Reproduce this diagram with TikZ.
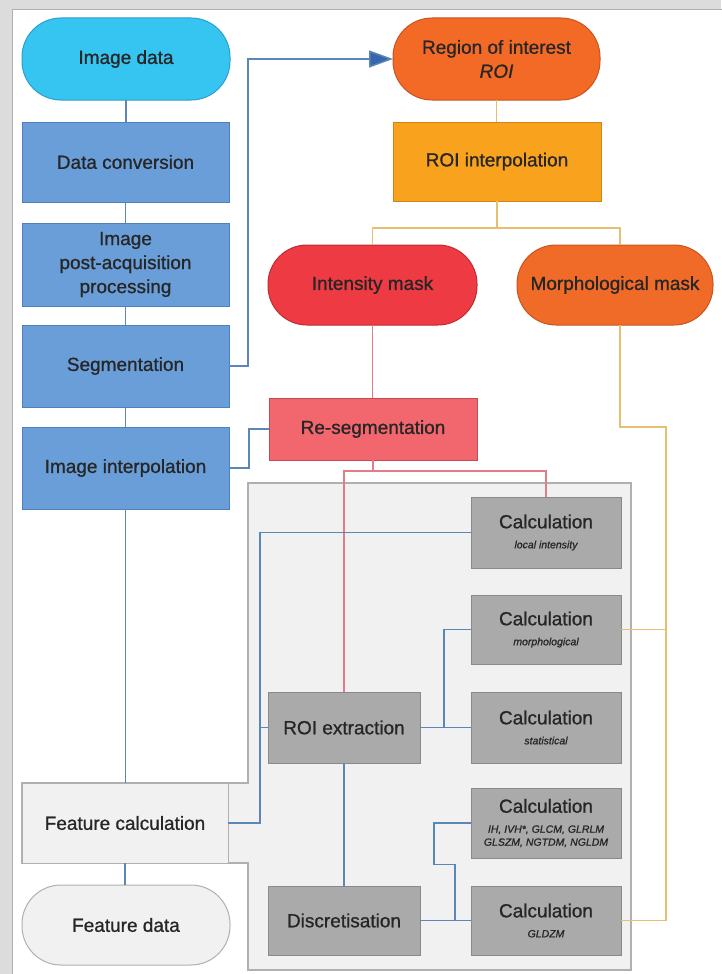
\documentclass[tikz,border=0pt]{standalone}
\usepackage{fontspec}
\setmainfont{Liberation Sans}[UprightFeatures={FakeBold=0.9},ItalicFeatures={FakeBold=0.9}]
\usetikzlibrary{arrows.meta}
\definecolor{txt}{HTML}{262626}
\definecolor{frame}{HTML}{DCDCDC}
\definecolor{cyanf}{HTML}{36C4F1}
\definecolor{cyand}{HTML}{2A9FD0}
\definecolor{bluef}{HTML}{6A9ED8}
\definecolor{blued}{HTML}{4F7FBD}
\definecolor{roif}{HTML}{F26A26}
\definecolor{roid}{HTML}{C8541E}
\definecolor{interpf}{HTML}{F8A21D}
\definecolor{interpd}{HTML}{D08418}
\definecolor{intf}{HTML}{EE3A43}
\definecolor{intd}{HTML}{C02A30}
\definecolor{morphf}{HTML}{F06B27}
\definecolor{resegf}{HTML}{F2666E}
\definecolor{resegd}{HTML}{C8484F}
\definecolor{panelf}{HTML}{F1F1F1}
\definecolor{paneld}{HTML}{B0B0B0}
\definecolor{calcf}{HTML}{AAAAAA}
\definecolor{calcd}{HTML}{8A8A8A}
\definecolor{lblue}{HTML}{5B86B8}
\definecolor{lgold}{HTML}{E6BF72}
\definecolor{lpink}{HTML}{E47C86}
\definecolor{arrowc}{HTML}{3766AD}
\begin{document}
\begin{tikzpicture}[x=1pt,y=-1pt,
  box/.style={draw, line width=1pt, inner sep=0pt, outer sep=0pt, align=center,
    text=txt, font=\fontsize{19}{24}\selectfont},
  stad/.style={box, rounded corners=39pt},
  bluebox/.style={box, fill=bluef, draw=blued, minimum width=207pt},
  calcbox/.style={box, fill=calcf, draw=calcd, minimum width=150pt,
    font=\fontsize{19}{20}\selectfont},
  graybox/.style={box, fill=calcf, draw=calcd, minimum width=152pt},
  bl/.style={draw=lblue, line width=1.5pt},
  gl/.style={draw=lgold, line width=1.5pt},
  pl/.style={draw=lpink, line width=1.5pt}]
\newcommand{\subf}{\fontsize{10.5}{12}\selectfont\itshape}
\useasboundingbox (0,0) rectangle (721,974);
% frame
\fill[frame] (0,0) rectangle (721,974);
\filldraw[fill=white, draw=frame!80!black, line width=0.8pt] (12,9) rectangle (730,980);
% panel
\filldraw[fill=panelf, draw=paneld, line width=1.2pt]
  (248,483) -- (631,483) -- (631,970) -- (248,970) -- (248,863) -- (22,863)
  -- (22,783) -- (248,783) -- cycle;
% left column
\node[stad, fill=cyanf, draw=cyand, minimum width=208pt, minimum height=82pt] (imgdata) at (126,59) {Image data};
\node[bluebox, minimum height=80pt] (datconv) at (125.5,162) {Data conversion};
\node[bluebox, minimum height=83pt] (postacq) at (125.5,264.5) {Image\\post-acquisition\\processing};
\node[bluebox, minimum height=82pt] (seg) at (125.5,366) {Segmentation};
\node[bluebox, minimum height=82pt] (imginterp) at (125.5,468) {Image interpolation};
\node[box, fill=panelf, draw=paneld, minimum width=206pt, minimum height=80pt] (featcalc) at (125,823) {Feature calculation};
\node[stad, fill=panelf, draw=paneld, minimum width=208pt, minimum height=80pt] (featdata) at (126,925) {Feature data};
% right column
\node[stad, fill=roif, draw=roid, minimum width=207pt, minimum height=82pt] (roi) at (496.5,59) {Region of interest\\{\itshape ROI}};
\node[box, fill=interpf, draw=interpd, minimum width=208pt, minimum height=79pt] (roiinterp) at (497,161.5) {ROI interpolation};
\node[stad, fill=intf, draw=intd, minimum width=209pt, minimum height=80pt] (intmask) at (372.5,285) {Intensity mask};
\node[stad, fill=morphf, draw=roid, minimum width=196pt, minimum height=80pt] (morphmask) at (615,285) {Morphological mask};
\node[box, fill=resegf, draw=resegd, minimum width=208pt, minimum height=62pt] (reseg) at (373,429) {Re-segmentation};
% panel content
\node[calcbox, minimum height=71pt] (calc1) at (546,532.5) {Calculation\\{\subf local intensity}};
\node[calcbox, minimum height=69pt] (calc2) at (546,629.5) {Calculation\\{\subf morphological}};
\node[calcbox, minimum height=71pt] (calc3) at (546,727.5) {Calculation\\{\subf statistical}};
\node[calcbox, minimum height=70pt] (calc4) at (546,823) {Calculation\\{\subf IH, IVH*, GLCM, GLRLM}\\[-7pt]{\subf GLSZM, NGTDM, NGLDM}};
\node[calcbox, minimum height=69pt] (calc5) at (546,920.5) {Calculation\\{\subf GLDZM}};
\node[graybox, minimum height=71pt] (roiext) at (344,727.5) {ROI extraction};
\node[graybox, minimum height=69pt] (discr) at (344,920.5) {Discretisation};
\coordinate (bx) at (260,0);
\coordinate (gbend) at (666,427);
% blue connectors left column
\draw[bl] (imgdata.south) -- (imgdata.south |- datconv.north);
\draw[bl] (datconv.south) -- (postacq.north);
\draw[bl] (postacq.south) -- (seg.north);
\draw[bl] (seg.south) -- (imginterp.north);
\draw[bl] (imginterp.south) -- (imginterp.south |- featcalc.north);
\draw[bl] (featcalc.south) -- (featcalc.south |- featdata.north);
\draw[bl, -{Triangle[length=24pt,width=17pt,fill=arrowc]}] (seg.east) -- ++(19,0) |- (roi.west);
\draw[bl] (imginterp.east) -- ++(20,0) |- (reseg.west);
% gold connectors
\draw[gl] (roi.south) -- (roi.south |- roiinterp.north);
\draw[gl] (roiinterp.south) -- ++(0,27) -| (intmask.north);
\draw[gl] (roiinterp.south) ++(0,27) -| ([xshift=5pt]morphmask.north);
\draw[gl] ([xshift=5pt]morphmask.south) |- (gbend) |- (calc5.east);
\draw[gl] (calc2.east) -- (calc2.east -| gbend);
% pink connectors
\draw[pl] (intmask.south) -- (intmask.south |- reseg.north);
\draw[pl] (reseg.south) -- ++(0,11) -| (roiext.north);
\draw[pl] (reseg.south) ++(0,11) -| (calc1.north);
% blue connectors in panel
\draw[bl] (calc1.west) -| (bx |- featcalc.east) -- (featcalc.east);
\draw[bl] (roiext.west) -- (roiext.west -| bx);
\draw[bl] (roiext.east) -- (calc3.west);
\draw[bl] (roiext.east) ++(24,0) |- (calc2.west);
\draw[bl] (roiext.south) -- (discr.north);
\draw[bl] (discr.east) -- (calc5.west);
\draw[bl] (discr.east) ++(35,0) -- ++(0,-56) -- ++(-21,0) |- (calc4.west);
\end{tikzpicture}
\end{document}
